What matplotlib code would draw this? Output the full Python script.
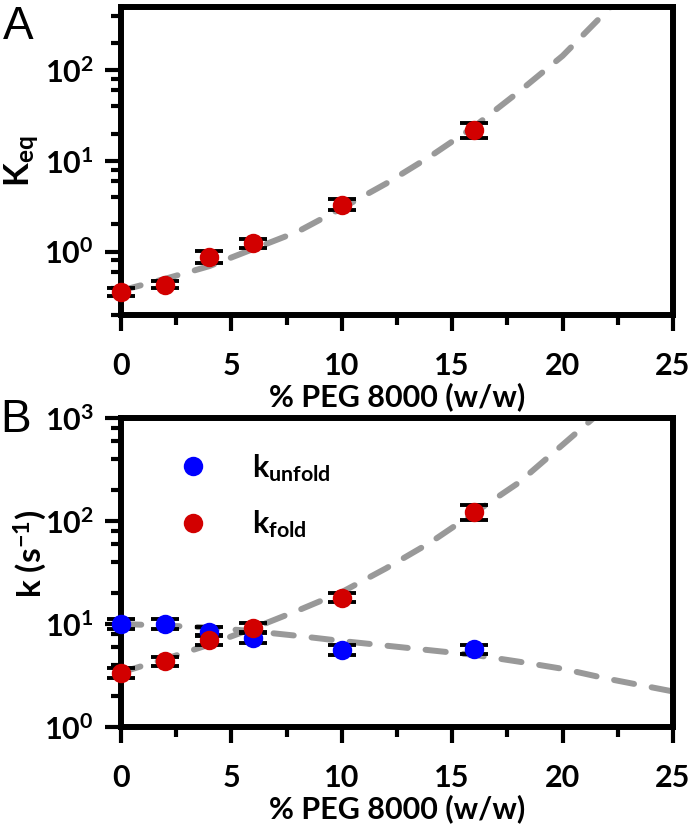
import numpy as np
import matplotlib
matplotlib.use("Agg")
import matplotlib.pyplot as plt
from matplotlib.ticker import LogLocator, MultipleLocator, FuncFormatter, NullFormatter
from matplotlib.lines import Line2D

plt.rcParams['font.family'] = ['Lato', 'DejaVu Sans']
plt.rcParams['font.weight'] = 'bold'
plt.rcParams['mathtext.fontset'] = 'custom'
plt.rcParams['mathtext.rm'] = 'Lato:bold'
plt.rcParams['mathtext.it'] = 'Lato:bold'
plt.rcParams['mathtext.bf'] = 'Lato:bold'

# ---------------- data ----------------
peg = [0, 2, 4, 6, 10, 16]

# Panel A: Keq
keq = [0.355, 0.43, 0.87, 1.24, 3.3, 21.8]
keq_lo = [0.32, 0.395, 0.74, 1.10, 2.85, 18.0]
keq_hi = [0.395, 0.47, 1.02, 1.39, 3.8, 26.3]

# Panel A fit curve (log10 values)
fitA_x = [0, 2, 4, 6, 8, 10, 12, 14, 16, 18, 20, 22.22]
fitA_log = [-0.43, -0.30, -0.16, 0.03, 0.22, 0.48, 0.75, 1.05, 1.38, 1.76, 2.16, 2.71]

# Panel B: rates
k_unfold = [10.0, 10.0, 8.4, 7.3, 5.6, 5.7]
k_unfold_lo = [9.0, 9.0, 7.6, 6.6, 5.05, 5.15]
k_unfold_hi = [11.1, 11.1, 9.3, 8.1, 6.2, 6.3]
k_fold = [3.34, 4.34, 7.06, 9.2, 18.0, 121.0]
k_fold_lo = [3.0, 3.9, 6.3, 8.3, 16.2, 102.0]
k_fold_hi = [3.7, 4.8, 7.8, 10.2, 20.0, 143.0]

fold_x = [0, 2, 4, 6, 8, 10, 12, 14, 16, 18, 20, 21.4]
fold_log = [0.53, 0.66, 0.80, 0.96, 1.13, 1.31, 1.54, 1.79, 2.08, 2.37, 2.74, 3.0]
unfold_x = [0, 2, 4, 6, 8, 10, 12, 14, 16, 18, 20, 22, 25]
unfold_log = [1.0, 0.985, 0.965, 0.93, 0.885, 0.835, 0.79, 0.745, 0.70, 0.635, 0.565, 0.47, 0.345]

xticks = [0, 5, 10, 15, 20, 25]

RED = '#d20000'
BLUE = '#0000ff'
GREY = '#999999'

fig = plt.figure(figsize=(6.93, 8.25), dpi=100)
axA = fig.add_axes([0.1746, 0.6182, 0.7965, 0.3733])
axB = fig.add_axes([0.1746, 0.1188, 0.7965, 0.3745])


def yfmt(v, p):
    e = int(round(np.log10(v)))
    return r'$\mathbf{10^{%d}}$' % e


def style(ax, ylim):
    ax.set_yscale('log')
    ax.set_xlim(0, 25)
    ax.set_ylim(*ylim)
    for s in ax.spines.values():
        s.set_linewidth(4.3)
    ax.xaxis.set_major_locator(MultipleLocator(5))
    ax.xaxis.set_minor_locator(MultipleLocator(2.5))
    ax.yaxis.set_major_locator(LogLocator(base=10, numticks=10))
    ax.yaxis.set_minor_locator(LogLocator(base=10, subs=(2, 4, 6, 8), numticks=10))
    ax.yaxis.set_major_formatter(FuncFormatter(yfmt))
    ax.yaxis.set_minor_formatter(NullFormatter())
    ax.set_xticks(xticks)
    ax.set_xticklabels([str(t) for t in xticks])
    ax.tick_params(which='major', direction='out', length=11.5, width=3,
                   labelsize=22, top=False, right=False)
    ax.tick_params(which='minor', direction='out', length=7, width=3,
                   top=False, right=False)
    ax.tick_params(axis='x', which='major', pad=15)
    ax.tick_params(axis='y', which='major', pad=8)
    ax.set_xlabel('% PEG 8000 (w/w)', fontsize=22, fontweight='bold', labelpad=2)


dash = dict(color=GREY, lw=4.3, dashes=(3.4, 3.0), dash_capstyle='round', zorder=1)
ebar = dict(fmt='none', ecolor='black', elinewidth=2.2, capsize=10, capthick=2.8, zorder=2)


def draw_err(ax, y, lo, hi):
    ya = np.array(y)
    c = ax.errorbar(peg, y, yerr=[ya - np.array(lo), np.array(hi) - ya], **ebar)
    for art in c.lines[1]:
        art.set_clip_on(False)
    for art in c.lines[2]:
        art.set_clip_on(False)


# ---- Panel A ----
style(axA, (0.2, 500))
axA.plot(fitA_x, [10 ** v for v in fitA_log], **dash)
draw_err(axA, keq, keq_lo, keq_hi)
axA.plot(peg, keq, 'o', color=RED, ms=14, mec='none', zorder=3, clip_on=False)
axA.set_ylabel(r'K$_{\mathbf{eq}}$', fontsize=25, fontweight='bold')
axA.yaxis.set_label_coords(-0.145, 0.5)

# ---- Panel B ----
style(axB, (1, 1000))
axB.plot(fold_x, [10 ** v for v in fold_log], **dash)
axB.plot(unfold_x, [10 ** v for v in unfold_log], **dash)
draw_err(axB, k_unfold, k_unfold_lo, k_unfold_hi)
draw_err(axB, k_fold, k_fold_lo, k_fold_hi)
axB.plot(peg, k_unfold, 'o', color=BLUE, ms=14, mec='none', zorder=3, clip_on=False)
axB.plot(peg, k_fold, 'o', color=RED, ms=14, mec='none', zorder=3.1, clip_on=False)
axB.set_ylabel(r'k (s$^{\mathbf{-1}}$)', fontsize=24, fontweight='bold')
axB.yaxis.set_label_coords(-0.13, 0.56)

handles = [Line2D([], [], ls='none', marker='o', color=BLUE, ms=14, mec='none'),
           Line2D([], [], ls='none', marker='o', color=RED, ms=14, mec='none')]
labels = [r'k$_{\mathbf{unfold}}$', r'k$_{\mathbf{fold}}$']
axB.legend(handles, labels, loc='upper left', bbox_to_anchor=(0.105, 0.89),
           frameon=False, fontsize=22, handlelength=0.9, handletextpad=1.5,
           labelspacing=0.8, borderpad=0, borderaxespad=0)

fig.text(0.004, 0.994, 'A', fontsize=33, fontweight='normal',
         family='Liberation Sans', va='top', ha='left')
fig.text(0.0, 0.517, 'B', fontsize=33, fontweight='normal',
         family='Liberation Sans', va='top', ha='left')

fig.savefig('out.png', dpi=100)
